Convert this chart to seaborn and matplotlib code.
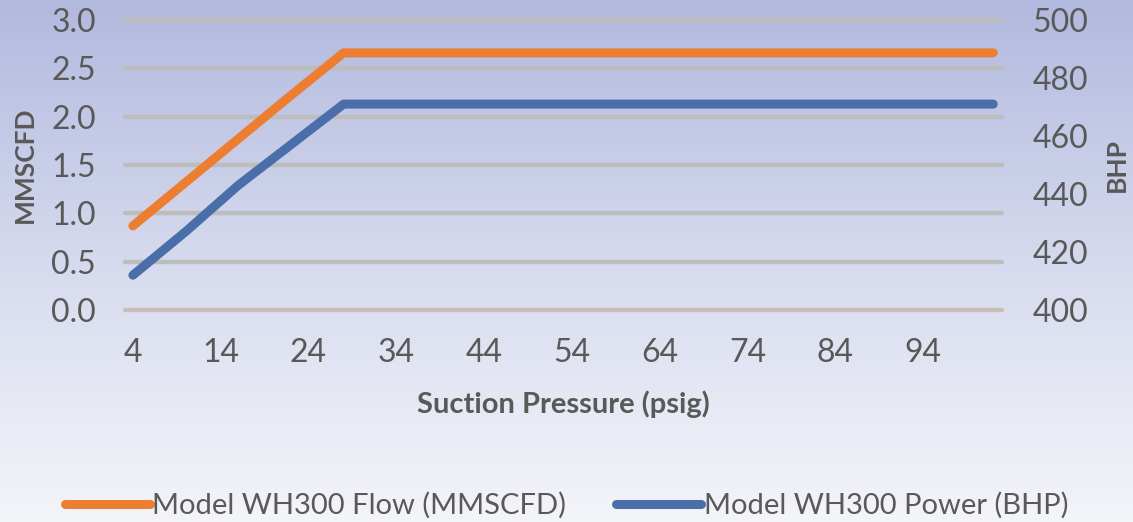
import numpy as np
import pandas as pd
import seaborn as sns
import matplotlib.pyplot as plt
from matplotlib.colors import LinearSegmentedColormap

# data
pressure = [4, 10, 16, 22, 28, 40, 60, 80, 102]
flow_mmscfd = [0.87, 1.32, 1.77, 2.22, 2.66, 2.66, 2.66, 2.66, 2.66]
power_bhp = [412, 427, 443, 457, 471, 471, 471, 471, 471]
x_ticks = [4, 14, 24, 34, 44, 54, 64, 74, 84, 94]
left_ticks = [0.0, 0.5, 1.0, 1.5, 2.0, 2.5, 3.0]
right_ticks = [400, 420, 440, 460, 480, 500]

df = pd.DataFrame({'pressure': pressure, 'flow': flow_mmscfd, 'power': power_bhp})

sns.set_theme(style='white')
plt.rcParams['font.family'] = ['Lato', 'DejaVu Sans']

txt = '#595959'
orange = '#ED7D31'
blue = '#4A6EAA'

fig = plt.figure(figsize=(11.33, 5.22), dpi=100)

# gradient background
bg = fig.add_axes([0, 0, 1, 1], zorder=-10)
cmap = LinearSegmentedColormap.from_list('bg', ['#b2b9de', '#d6daee', '#f4f5f9'])
bg.imshow(np.linspace(0, 1, 256).reshape(-1, 1), aspect='auto', cmap=cmap,
          extent=[0, 1, 0, 1])
bg.set_axis_off()

ax = fig.add_axes([125 / 1133, 1 - 310 / 522, 877 / 1133, 290 / 522])
ax.patch.set_alpha(0)
ax2 = ax.twinx()

for y in left_ticks:
    ax.axhline(y, color='#c8c0b8' if y == 0 else '#bdbdbd', lw=3.2,
               zorder=0, clip_on=False)

sns.lineplot(data=df, x='pressure', y='flow', ax=ax, color=orange, lw=6.5,
             solid_capstyle='round', label='Model WH300 Flow (MMSCFD)', legend=False)
sns.lineplot(data=df, x='pressure', y='power', ax=ax2, color=blue, lw=6.5,
             solid_capstyle='round', label='Model WH300 Power (BHP)', legend=False)

ax.set_xlim(3.1, 103)
ax.set_ylim(0, 3)
ax2.set_ylim(400, 500)
ax.set_xticks(x_ticks)
ax.set_yticks(left_ticks)
ax.set_yticklabels([f'{v:.1f}' for v in left_ticks])
ax2.set_yticks(right_ticks)

for a in (ax, ax2):
    for s in a.spines.values():
        s.set_visible(False)
    a.tick_params(length=0, labelsize=23, labelcolor=txt)
ax.tick_params(axis='x', pad=20)
ax.tick_params(axis='y', pad=21)
ax2.tick_params(axis='y', pad=22)

ax.set_xlabel('Suction Pressure (psig)', fontsize=21, fontweight='bold', color=txt, labelpad=16)
ax.set_ylabel('MMSCFD', fontsize=19, fontweight='bold', color=txt, labelpad=10)
ax2.set_ylabel('BHP', fontsize=19, fontweight='bold', color=txt, labelpad=12)

h1, l1 = ax.get_legend_handles_labels()
h2, l2 = ax2.get_legend_handles_labels()
leg = fig.legend(h1 + h2, l1 + l2, loc='center', bbox_to_anchor=(0.5, 0.032), ncol=2,
                 frameon=False, fontsize=21, handlelength=2.9, handletextpad=0.1,
                 columnspacing=1.7, labelcolor=txt)

fig.savefig('out.png', dpi=100)
